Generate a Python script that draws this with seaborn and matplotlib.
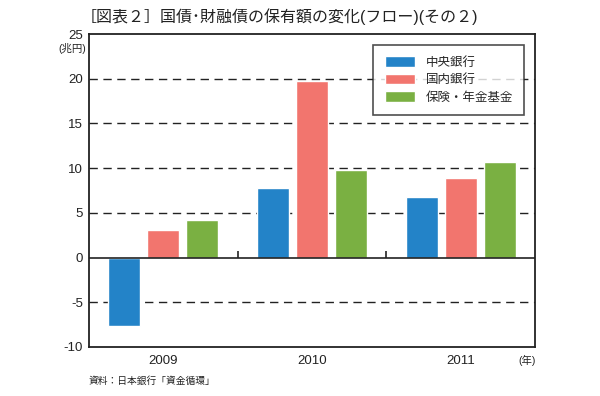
import pandas as pd
import matplotlib.pyplot as plt
import seaborn as sns

# data (兆円)
years = ['2009', '2010', '2011']
series = ['中央銀行', '国内銀行', '保険・年金基金']
central_bank = [-7.7, 7.8, 6.8]
domestic_banks = [3.1, 19.7, 8.9]
insurance_pension = [4.2, 9.8, 10.7]
colors = ['#2383c8', '#f2756e', '#7ab042']

df = pd.DataFrame({
    'year': years * 3,
    'series': [s for s in series for _ in years],
    'value': central_bank + domestic_banks + insurance_pension,
})

sns.set_theme(style='white')
plt.rcParams['font.family'] = ['Liberation Sans', 'Noto Sans CJK JP', 'DejaVu Sans']
plt.rcParams['axes.unicode_minus'] = False

fig = plt.figure(figsize=(6, 3.96), dpi=100)
ax = fig.add_axes([0.148, 0.124, 0.744, 0.790])

sns.barplot(data=df, x='year', y='value', hue='series', palette=colors,
            width=0.79, gap=0.18, saturation=1, ax=ax)

ax.set_ylim(-10, 25)
ax.set_xlim(-0.5, 2.5)
ax.set_yticks(range(-10, 26, 5))
ax.set_xlabel('')
ax.set_ylabel('')

# dashed grid, solid zero line
for v in [-5, 5, 10, 15, 20]:
    ax.axhline(v, color='#222222', lw=1, ls=(0, (6, 4)), zorder=0)
ax.axhline(0, color='#222222', lw=1.2, zorder=3)
ax.vlines([0.5, 1.5], 0, 0.7, color='#222222', lw=1.2, zorder=3)

for sp in ax.spines.values():
    sp.set_color('#222222')
    sp.set_linewidth(1.3)

ax.tick_params(axis='y', length=0, labelsize=9.5, pad=4, colors='#222222')
ax.tick_params(axis='x', which='major', length=0, labelsize=9.5, pad=6, colors='#222222')
ax.set_xticks([0.5, 1.5], minor=True)
ax.tick_params(axis='x', which='minor', length=7, width=1.2, direction='out', color='#222222')

leg = ax.legend(loc='upper right', bbox_to_anchor=(0.99, 0.985), fontsize=9,
                frameon=True, fancybox=False, edgecolor='#222222',
                handlelength=2.4, handleheight=0.9, borderpad=0.9,
                labelspacing=0.4, handletextpad=0.9)
leg.get_frame().set_linewidth(1.2)

fig.text(0.135, 0.957, '［図表２］国債･財融債の保有額の変化(フロー)(その２)',
         fontsize=11.5, va='center', ha='left', color='#222222')
fig.text(0.143, 0.878, '(兆円)', fontsize=7.5, ha='right', va='center', color='#222222')
fig.text(0.893, 0.090, '(年)', fontsize=7.5, ha='right', va='center', color='#222222')
fig.text(0.147, 0.037, '資料：日本銀行「資金循環」', fontsize=7, ha='left', va='center',
         color='#222222')

fig.savefig('out.png', dpi=100)
